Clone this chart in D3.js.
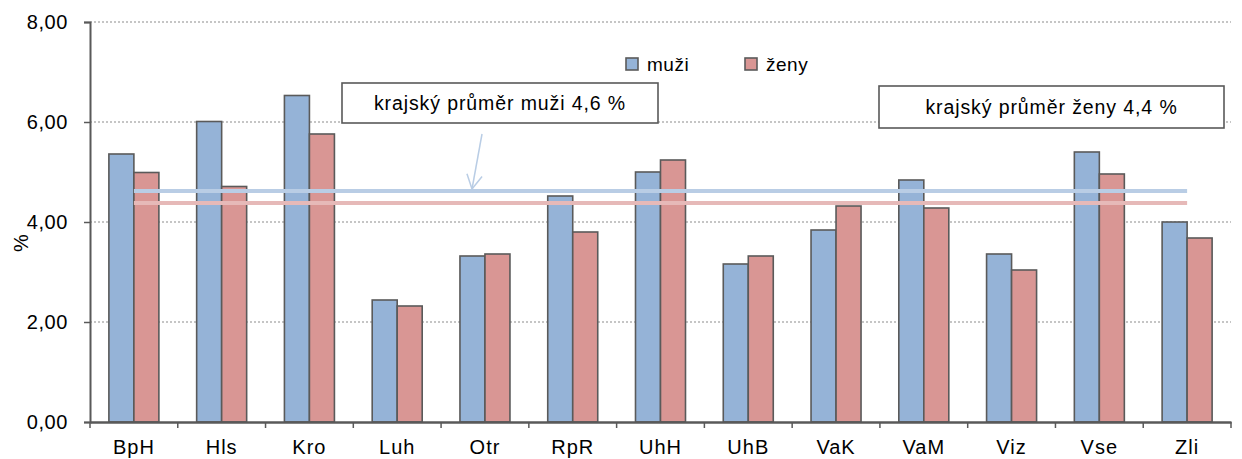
<!DOCTYPE html>
<html>
<head>
<meta charset="utf-8">
<script src="https://cdn.jsdelivr.net/npm/d3@7"></script>
<style>
body { margin: 0; background: #fff; }
svg { font-family: "Liberation Sans", Arial, sans-serif; }
</style>
</head>
<body>
<svg id="chart" width="1242" height="459"></svg>
<script>
// data
var categories = ["BpH", "Hls", "Kro", "Luh", "Otr", "RpR", "UhH", "UhB", "VaK", "VaM", "Viz", "Vse", "Zli"];
var muzi = [5.36, 6.01, 6.53, 2.44, 3.32, 4.52, 5.00, 3.16, 3.84, 4.84, 3.36, 5.40, 4.00];
var zeny = [4.99, 4.71, 5.76, 2.32, 3.36, 3.80, 5.24, 3.32, 4.32, 4.28, 3.04, 4.96, 3.68];
var seriesNames = ["muži", "ženy"];
var avgMuzi = 4.62;
var avgZeny = 4.38;
var yTicks = [0, 2, 4, 6, 8];

var margin = {left: 90, right: 11, top: 22, bottom: 37};
var W = 1242, H = 459;
var FONT = "Liberation Sans, Arial, sans-serif";
var svg = d3.select("#chart");
var fmt = function(v){ return d3.format(".2f")(v).replace(".", ","); };

var x = d3.scaleBand().domain(categories).range([margin.left, W - margin.right]);
var y = d3.scaleLinear().domain([0, 8]).range([H - margin.bottom, margin.top]);
var BAR_W = 25;

// gridlines
svg.append("g").selectAll("line").data(yTicks.filter(function(d){ return d > 0; })).enter()
	.append("line")
	.attr("x1", margin.left).attr("x2", W - margin.right)
	.attr("y1", function(d){ return y(d); }).attr("y2", function(d){ return y(d); })
	.attr("stroke", "#8c8c8c").attr("stroke-width", 1.2).attr("stroke-dasharray", "2,2");

// bars
var groups = svg.append("g").selectAll("g").data(categories).enter().append("g");
groups.append("rect")
	.attr("x", function(d){ return x(d) + x.bandwidth() / 2 - BAR_W; })
	.attr("y", function(d, i){ return y(muzi[i]); })
	.attr("width", BAR_W)
	.attr("height", function(d, i){ return y(0) - y(muzi[i]); })
	.attr("fill", "#95b3d7").attr("stroke", "#5a5a5a").attr("stroke-width", 1.6);
groups.append("rect")
	.attr("x", function(d){ return x(d) + x.bandwidth() / 2; })
	.attr("y", function(d, i){ return y(zeny[i]); })
	.attr("width", BAR_W)
	.attr("height", function(d, i){ return y(0) - y(zeny[i]); })
	.attr("fill", "#d99694").attr("stroke", "#5a5a5a").attr("stroke-width", 1.6);

// average lines
var x0 = x(categories[0]) + x.bandwidth() / 2;
var x1 = x(categories[categories.length - 1]) + x.bandwidth() / 2;
svg.append("line").attr("x1", x0).attr("x2", x1)
	.attr("y1", y(avgMuzi)).attr("y2", y(avgMuzi))
	.attr("stroke", "#b9cde5").attr("stroke-width", 4);
svg.append("line").attr("x1", x0).attr("x2", x1)
	.attr("y1", y(avgZeny)).attr("y2", y(avgZeny))
	.attr("stroke", "#e6b9b8").attr("stroke-width", 4);

// axes
var yAxis = d3.axisLeft(y).tickValues(yTicks).tickFormat(fmt).tickSize(6);
var gy = svg.append("g").attr("transform", "translate(" + margin.left + ",0)").call(yAxis);
gy.select(".domain").attr("stroke", "#595959").attr("stroke-width", 2);
gy.selectAll(".tick line").attr("stroke", "#595959").attr("stroke-width", 1.5);
gy.selectAll("text").attr("font-size", 20).attr("fill", "#000").attr("x", -22)
	.attr("letter-spacing", 0.6).style("font-family", FONT);

var xAxis = d3.axisBottom(x).tickSize(0);
var gx = svg.append("g").attr("transform", "translate(0," + y(0) + ")").call(xAxis);
gx.select(".domain").attr("stroke", "#595959").attr("stroke-width", 2.5);
gx.selectAll("text").attr("font-size", 20).attr("fill", "#000").attr("dy", 0).attr("y", 32)
	.attr("letter-spacing", 1).style("font-family", FONT);
// category separators
var bounds = categories.map(function(d){ return x(d); }).concat([W - margin.right]);
svg.append("g").selectAll("line").data(bounds).enter().append("line")
	.attr("x1", function(d){ return d; }).attr("x2", function(d){ return d; })
	.attr("y1", y(0)).attr("y2", y(0) + 6)
	.attr("stroke", "#595959").attr("stroke-width", 1.5);

// y title
svg.append("text")
	.attr("transform", "translate(28,243) rotate(-90)")
	.attr("text-anchor", "middle").attr("font-size", 20).text("%");

// legend
var leg = svg.append("g").attr("transform", "translate(626,58)");
var legColors = ["#95b3d7", "#d99694"];
seriesNames.forEach(function(n, i){
	var g = leg.append("g").attr("transform", "translate(" + (i * 119) + ",0)");
	g.append("rect").attr("x", 0).attr("y", 0).attr("width", 12).attr("height", 12)
		.attr("fill", legColors[i]).attr("stroke", "#5a5a5a").attr("stroke-width", 1.6);
	g.append("text").attr("x", 21).attr("y", 13).attr("font-size", 19)
		.attr("letter-spacing", 0.5).text(n);
});

// callouts
function callout(bx, by, bw, bh, label) {
	svg.append("rect").attr("x", bx).attr("y", by).attr("width", bw).attr("height", bh)
		.attr("fill", "#fff").attr("stroke", "#595959").attr("stroke-width", 1.6);
	svg.append("text").attr("x", bx + bw / 2).attr("y", by + bh / 2 + 7)
		.attr("text-anchor", "middle").attr("font-size", 19.5).attr("letter-spacing", 0.9)
		.text(label);
}
callout(342, 83, 316, 40, "krajský průměr muži 4,6 %");
callout(879, 86, 345, 42, "krajský průměr ženy 4,4 %");

// arrow
var ax1 = 482, ay1 = 134, ax2 = 472, ay2 = y(avgMuzi) - 2;
svg.append("line").attr("x1", ax1).attr("y1", ay1).attr("x2", ax2).attr("y2", ay2)
	.attr("stroke", "#b9cde5").attr("stroke-width", 1.5);
var ang = Math.atan2(ay2 - ay1, ax2 - ax1);
[0.5, -0.5].forEach(function(da){
	svg.append("line").attr("x1", ax2).attr("y1", ay2)
		.attr("x2", ax2 - 16 * Math.cos(ang + da)).attr("y2", ay2 - 16 * Math.sin(ang + da))
		.attr("stroke", "#b9cde5").attr("stroke-width", 1.5);
});
</script>
</body>
</html>
